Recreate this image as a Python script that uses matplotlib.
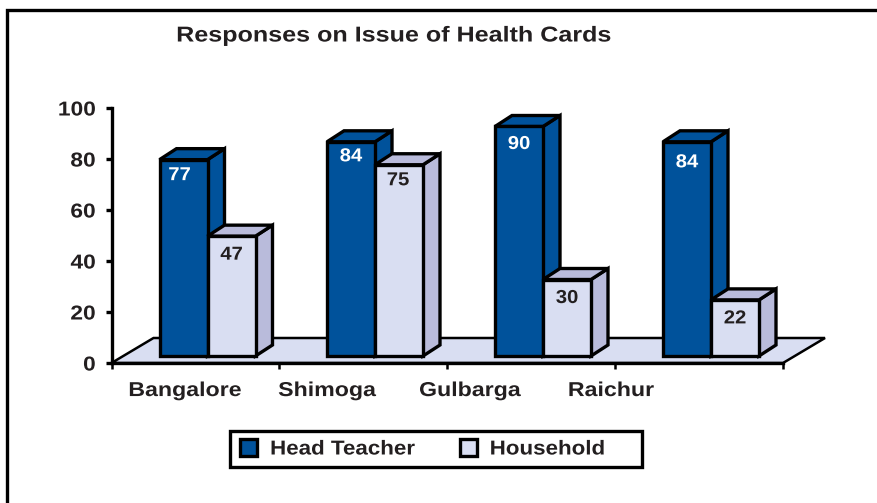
import matplotlib
matplotlib.use("Agg")
import matplotlib.pyplot as plt
from matplotlib.patches import Polygon, Rectangle, Patch
from matplotlib.patheffects import AbstractPathEffect
from matplotlib.transforms import Affine2D

# --- data ---
title = "Responses on Issue of Health Cards"
categories = ["Bangalore", "Shimoga", "Gulbarga", "Raichur"]
head_teacher = [77, 84, 90, 84]
household = [47, 75, 30, 22]
y_ticks = [0, 20, 40, 60, 80, 100]
series_names = ["Head Teacher", "Household"]

# --- style ---
W, H = 878, 503
BLUE = "#00529B"
LIGHT = "#D9DEF2"
SIDE = "#B9BBDB"
INK = "#231F20"
LW = 2.4

plt.rcParams["font.family"] = ["Liberation Sans", "DejaVu Sans"]
plt.rcParams["font.weight"] = "bold"


# the original lettering is wider than Arial, so widen the glyph paths
class Widen(AbstractPathEffect):
    def __init__(self, sx, anchor=0.5):
        super().__init__()
        self.sx = sx
        self.anchor = anchor

    def draw_path(self, renderer, gc, tpath, affine, rgbFace=None):
        box = tpath.get_extents()
        cx = box.x0 + self.anchor * box.width
        pre = Affine2D().translate(-cx, 0).scale(self.sx, 1).translate(cx, 0)
        renderer.draw_path(gc, tpath, pre + affine, rgbFace)


fig = plt.figure(figsize=(W / 100, H / 100), dpi=100)

# axes box in pixels of the image
left, right, top, bottom = 111.5, 783, 108, 363
ax = fig.add_axes([left / W, 1 - bottom / H, (right - left) / W, (bottom - top) / H])
ax.set_xlim(0, len(categories))
ax.set_ylim(0, 100)
ax.patch.set_visible(False)

ux = (right - left) / len(categories)  # pixels per category
uy = (bottom - top) / 100  # pixels per value

# outer frame, runs off the right and bottom of the image
fig.add_artist(Rectangle((7 / W, -0.05), 1.1, 1 - 10 / H + 0.05, transform=fig.transFigure,
                         fill=False, edgecolor="black", linewidth=LW))

# floor of the 3d box
fdx, fdy = 42 / ux, 25 / uy
ax.add_patch(Polygon([(0, 0), (len(categories), 0), (len(categories) + fdx, fdy), (fdx, fdy)],
                     closed=True, facecolor=LIGHT, edgecolor="black", linewidth=1.8,
                     clip_on=False, zorder=1))


def bar3d(x, val, w, color, side, txt_color, txt_dx, txt_dy):
    base = 7 / uy
    dx, dy = 17 / ux, 11 / uy
    t = base + val
    kw = dict(closed=True, edgecolor="black", linewidth=LW, joinstyle="miter", clip_on=False, zorder=3)
    ax.add_patch(Polygon([(x + w, base), (x + w + dx, base + dy), (x + w + dx, t + dy), (x + w, t)],
                         facecolor=side, **kw))
    ax.add_patch(Polygon([(x, t), (x + dx, t + dy), (x + w + dx, t + dy), (x + w, t)],
                         facecolor=side, **kw))
    ax.add_patch(Polygon([(x, base), (x + w, base), (x + w, t), (x, t)],
                         facecolor=color, **kw))
    ax.text(x + w / 2 + txt_dx / ux, t - txt_dy / uy, str(val), color=txt_color, fontsize=13.5,
            ha="center", va="center", zorder=4, path_effects=[Widen(1.08)])


bar_w = 48 / ux
start_px = [159.5, 327, 495, 663]
# label placement inside the bars is a bit uneven in the original
head_dx = [-4, 0, 0, 0]
head_dy = [16, 15, 18, 21]
house_dx = [0, -1, 0, 0]
house_dy = [19, 16, 19, 19]
for i in range(len(categories)):
    x0 = (start_px[i] - left) / ux
    bar3d(x0, head_teacher[i], bar_w, BLUE, BLUE, "white", head_dx[i], head_dy[i])
    bar3d(x0 + bar_w, household[i], bar_w, LIGHT, SIDE, INK, house_dx[i], house_dy[i])

# axes
for s in ["top", "right"]:
    ax.spines[s].set_visible(False)
ax.spines["left"].set_linewidth(LW)
ax.spines["bottom"].set_linewidth(LW)
ax.spines["left"].set_zorder(2)
ax.spines["bottom"].set_zorder(2)
ax.set_yticks(y_ticks)
ax.tick_params(axis="y", length=4.5, width=LW, pad=7, labelsize=14.5, labelcolor=INK)
for t in ax.get_yticklabels():
    t.set_path_effects([Widen(1.13, anchor=1)])
ax.set_xticks(range(len(categories) + 1))
ax.tick_params(axis="x", which="major", length=4, width=1.8, labelbottom=False)

# category names are not centred on the ticks in the original
label_px = [185, 327, 470, 611]
ax.set_xticks([(p - left) / ux for p in label_px], categories, minor=True)
ax.tick_params(axis="x", which="minor", length=0, pad=13, labelsize=14.5, labelcolor=INK)
for t in ax.get_xticklabels(minor=True):
    t.set_path_effects([Widen(1.15)])

fig.text(394 / W, 1 - 36 / H, title, ha="center", va="center", fontsize=15.5, color=INK,
         path_effects=[Widen(1.166)])

# legend frame drawn separately, the stretched text would not fit the automatic one
fig.add_artist(Rectangle((230 / W, 1 - 467 / H), 412 / W, 36 / H, transform=fig.transFigure,
                         facecolor="white", edgecolor="black", linewidth=LW, zorder=1))
handles = [Patch(facecolor=BLUE, edgecolor="black", linewidth=LW),
           Patch(facecolor=LIGHT, edgecolor="black", linewidth=LW)]
leg = fig.legend(handles, series_names, loc="center left", bbox_to_anchor=(240 / W, 1 - 449 / H),
                 ncol=2, fontsize=14.5, labelcolor=INK, frameon=False,
                 handlelength=0.85, handleheight=0.85, handletextpad=0.65,
                 columnspacing=2.9, borderpad=0, borderaxespad=0)
for t in leg.get_texts():
    t.set_path_effects([Widen(1.11, anchor=0)])

fig.savefig("out.png", dpi=100)
